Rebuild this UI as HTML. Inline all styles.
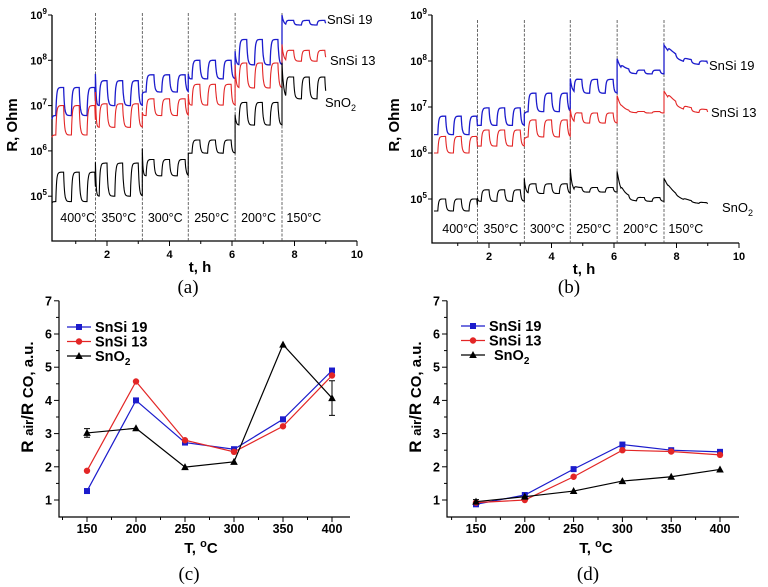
<!DOCTYPE html>
<html><head><meta charset="utf-8"><style>
body{margin:0;background:#fff}
svg{display:block;font-family:"Liberation Sans",sans-serif}
.tk{font-weight:bold;font-size:11px}
.tk2{font-weight:bold;font-size:12.5px}
.ttl{font-weight:bold;font-size:15px}
.cap{font-family:"Liberation Serif",serif;font-size:19px}
.tmp{font-size:12.5px}
.lbl{font-size:13px}
.leg{font-weight:bold;font-size:14.5px}
</style></head><body>
<svg id="fig" width="768" height="587" viewBox="0 0 768 587"></svg>
<script>
// ---------- data: time series (log10 R) per temperature segment ----------
const segStart=[0.24,1.63,3.13,4.6,6.1,7.6];
const segEnd=[1.63,3.13,4.6,6.1,7.6,9.0];
const tempLabels=["400°C","350°C","300°C","250°C","200°C","150°C"];
const aBlueLow=[6.78,7.0,7.3,7.59,7.9,8.78];
const aBlueHigh=[7.4,7.55,7.68,8.0,8.46,8.88];
const aBlueSpike=[6.7,7.7,7.25,7.7,8.2,9.0];
const aRedLow=[6.35,6.52,6.78,7.01,7.39,7.98];
const aRedHigh=[7.0,7.04,7.15,7.47,7.94,8.22];
const aRedSpike=[6.3,7.3,6.85,7.25,7.9,8.35];
const aBlackLow=[4.88,5.0,5.45,5.95,6.57,7.15];
const aBlackHigh=[5.53,5.73,5.81,6.24,7.07,7.63];
const aBlackSpike=[4.85,5.75,6.05,5.95,6.8,7.95];
const aTau=[0.02,0.02,0.02,0.02,0.03,0.05];
const bBlueLow=[6.4,6.6,6.9,7.3,7.72,7.9];
const bBlueHigh=[6.8,6.98,7.3,7.6,7.8,7.98];
const bBlueSpike=[6.4,6.6,6.85,7.62,8.05,8.35];
const bRedLow=[6.0,6.15,6.35,6.65,6.87,6.85];
const bRedHigh=[6.36,6.5,6.72,6.87,6.9,6.93];
const bRedSpike=[6.0,6.15,6.3,6.95,7.25,7.35];
const bBlackLow=[4.74,4.95,5.12,5.15,4.95,4.87];
const bBlackHigh=[5.0,5.2,5.33,5.25,5.03,4.9];
const bBlackSpike=[4.74,5.02,5.45,5.65,5.6,5.45];
const bTau=[0.02,0.02,0.04,0.06,0.15,0.4];
const timeTicks=[2,4,6,8,10];
const decades=[5,6,7,8,9];
// ---------- data: response vs temperature ----------
const temps=[150,200,250,300,350,400];
const cBlue=[1.27,4.0,2.73,2.53,3.43,4.9];
const cRed=[1.88,4.57,2.8,2.45,3.22,4.75];
const cBlack=[3.02,3.16,1.99,2.15,5.68,4.07];
const cBlackErr=[0.13,0,0,0,0,0.52];
const dBlue=[0.87,1.15,1.93,2.67,2.5,2.45];
const dRed=[0.92,1.0,1.7,2.5,2.46,2.36];
const dBlack=[0.95,1.1,1.27,1.57,1.7,1.92];
const dBlackErr=[0.06,0,0,0,0,0];
const respTicks=[1,2,3,4,5,6,7];

const NS="http://www.w3.org/2000/svg";
const svg=document.getElementById('fig');
function mk(tag,attrs,parent,text){const e=document.createElementNS(NS,tag);for(const k in attrs)e.setAttribute(k,attrs[k]);if(text!==undefined)e.textContent=text;(parent||svg).appendChild(e);return e;}
const BLUE="#1c1ccc",RED="#e32626";

function timePanel(P){
  const g=mk('g',{});
  
  
  const X=t=>P.x0+(t-0)*P.pxh, Y=l=>P.yTop+(9-l)*P.pxd;
  const ax=mk('path',{d:`M${P.left},${P.yTop} V${P.bottom} H${X(10)}`,stroke:'#000','stroke-width':1.3,fill:'none'},g);
  
  for(let t=1;t<=10;t++){const tk=mk('line',{x1:X(t),x2:X(t),y1:P.bottom,y2:P.bottom+(t%2?3:5),stroke:'#000','stroke-width':1},g);
    }
  timeTicks.forEach(t=>{const e=mk('text',{x:X(t),y:P.bottom+17,'text-anchor':'middle',class:'tk'},g,String(t));
    });
  decades.forEach(d=>{mk('line',{x1:P.left-4,x2:P.left,y1:Y(d),y2:Y(d),stroke:'#000'},g);
    const e=mk('text',{x:P.left-5,y:Y(d)+4,'text-anchor':'end',class:'tk'},g);
    
    mk('tspan',{},e,'10');mk('tspan',{dy:-5,'font-size':8},e,String(d));});
  segStart.slice(1).forEach(t=>{const l=mk('line',{x1:X(t),x2:X(t),y1:P.sepTop,y2:P.bottom,stroke:'#444','stroke-width':0.8,'stroke-dasharray':'3,1.5'},g);
    });
  tempLabels.forEach((s,i)=>{const e=mk('text',{x:(X(segStart[i])+X(segEnd[i]))/2+(i===0?4:0),y:P.tempY,'text-anchor':'middle',class:'tmp'},g,s);
    });
  P.series.forEach(s=>{
    let pts=[];
    for(let i=0;i<6;i++){
      const t0=segStart[i],t1=segEnd[i];
      for(let t=t0;t<=t1+1e-9;t+=0.01){
        const u=t-t0;
        let base=s.low[i]+(s.spike[i]-s.low[i])*Math.exp(-u/P.tau[i]);
        let f=0;
        for(let k=0;k<3;k++){const r=0.12+0.5*k,fa=r+0.25;
          if(u>=r&&u<fa)f=Math.max(f,1-Math.exp(-(u-r)/0.025));
          else if(u>=fa)f=Math.max(f,(1-Math.exp(-(fa-r)/0.025))*Math.exp(-(u-fa)/0.03));}
        pts.push([X(t),Y(base+(s.high[i]-s.low[i])*f)]);
      }
    }
    const p=mk('path',{d:'M'+pts.map(q=>q[0].toFixed(1)+','+q[1].toFixed(1)).join(' L'),stroke:s.color,'stroke-width':s.w||1.1,fill:'none'},g);
    
    const e=mk('text',{x:s.lx,y:s.ly,class:'lbl'},g);
    
    if(s.sub){mk('tspan',{},e,'SnO');mk('tspan',{dy:4,'font-size':9},e,'2');}else e.textContent=s.text;
  });
  const xt=mk('text',{x:P.xtX,y:P.bottom+31,'text-anchor':'middle',class:'ttl'},g,'t, h');
  
  const yt=mk('text',{x:0,y:0,transform:`translate(${P.ytX},${P.ytY}) rotate(-90)`,'text-anchor':'middle',class:'ttl'},g,'R, Ohm');
  
  const c=mk('text',{x:P.capX,y:293,'text-anchor':'middle',class:'cap'},g,P.cap);
  
}

timePanel({name:'panel-a',x0:44.5,pxh:31.25,yTop:15,pxd:45.3,left:52,bottom:241,sepTop:13,tempY:222,tau:aTau,xtX:200,ytX:17,ytY:125,capX:188,cap:'(a)',
 series:[
  {id:'series-snsi19',color:BLUE,low:aBlueLow,high:aBlueHigh,spike:aBlueSpike,text:'SnSi 19',lx:327,ly:24,w:1.3},
  {id:'series-snsi13',color:RED,low:aRedLow,high:aRedHigh,spike:aRedSpike,text:'SnSi 13',lx:330,ly:65},
  {id:'series-sno2',color:'#000',low:aBlackLow,high:aBlackHigh,spike:aBlackSpike,sub:true,lx:325,ly:107}]});
timePanel({name:'panel-b',x0:426.5,pxh:31.25,yTop:15,pxd:46,left:432,bottom:243,sepTop:20,tempY:233,tau:bTau,xtX:584,ytX:399,ytY:125,capX:569,cap:'(b)',
 series:[
  {id:'series-snsi19',color:BLUE,low:bBlueLow,high:bBlueHigh,spike:bBlueSpike,text:'SnSi 19',lx:709,ly:70,w:1.3},
  {id:'series-snsi13',color:RED,low:bRedLow,high:bRedHigh,spike:bRedSpike,text:'SnSi 13',lx:711,ly:117},
  {id:'series-sno2',color:'#000',low:bBlackLow,high:bBlackHigh,spike:bBlackSpike,sub:true,lx:722,ly:212}]});

function respPanel(P){
  const g=mk('g',{});
  
  
  const X=v=>P.x150+(v-150)*P.pxT, Y=v=>P.y1-(v-1)*33.2;
  const ax=mk('path',{d:`M${P.left},${Y(7)} V${P.bottom} H${P.right}`,stroke:'#000','stroke-width':1.2,fill:'none'},g);
  
  for(let v=125;v<=425;v+=25){const x=X(v);if(x<P.left||x>P.right)continue;
    mk('line',{x1:x,x2:x,y1:P.bottom,y2:P.bottom+(v%50?3:5),stroke:'#000'},g);}
  temps.forEach(v=>{const e=mk('text',{x:X(v),y:P.bottom+16,'text-anchor':'middle',class:'tk2'},g,String(v));
    });
  for(let v=1;v<=7;v+=0.5)mk('line',{x1:P.left-(v%1?3:5),x2:P.left,y1:Y(v),y2:Y(v),stroke:'#000'},g);
  respTicks.forEach(v=>{const e=mk('text',{x:P.left-7,y:Y(v)+4.5,'text-anchor':'end',class:'tk2'},g,String(v));
    });
  const yt=mk('text',{x:0,y:0,transform:`translate(${P.left-26},${Y(4.1)}) rotate(-90)`,'text-anchor':'middle',class:'ttl'},g);
  
  mk('tspan',{'font-size':17},yt,'R ');mk('tspan',{'font-size':13},yt,'air');mk('tspan',{'font-size':17},yt,'/R ');mk('tspan',{'font-size':15},yt,'CO, a.u.');
  const xt=mk('text',{x:P.xtX,y:P.bottom+36,'text-anchor':'middle',class:'ttl'},g);
  
  mk('tspan',{},xt,'T, ');mk('tspan',{dy:-6,'font-size':11},xt,'o');mk('tspan',{dy:6},xt,'C');
  const c=mk('text',{x:P.capX,y:580,'text-anchor':'middle',class:'cap'},g,P.cap);
  
  function marker(type,x,y,col,parent){
    if(type==='s')return mk('rect',{x:x-3,y:y-3,width:6,height:6,fill:col},parent);
    if(type==='c')return mk('circle',{cx:x,cy:y,r:3.2,fill:col},parent);
    return mk('path',{d:`M${x},${y-4} L${x+3.8},${y+3} L${x-3.8},${y+3}Z`,fill:col},parent);
  }
  P.series.forEach((s,si)=>{
    const sg=mk('g',{},g);
    
    if(s.err)s.vals.forEach((v,i)=>{const e=s.err[i];if(!e)return;const x=X(temps[i]);
      mk('path',{d:`M${x},${Y(v+e)} V${Y(v-e)} M${x-3},${Y(v+e)} H${x+3} M${x-3},${Y(v-e)} H${x+3}`,stroke:'#000','stroke-width':1,fill:'none'},sg);});
    mk('polyline',{points:s.vals.map((v,i)=>X(temps[i])+','+Y(v)).join(' '),stroke:s.color,'stroke-width':1.2,fill:'none'},sg);
    s.vals.forEach((v,i)=>{const m=marker(s.mk,X(temps[i]),Y(v),s.color,sg);
      });
    const ly=P.legY+si*14.5;
    const lg=mk('g',{},g);
    
    mk('line',{x1:P.legX,x2:P.legX+24,y1:ly,y2:ly,stroke:s.color,'stroke-width':1.2},lg);
    marker(s.mk,P.legX+12,ly,s.color,lg);
    const t=mk('text',{x:P.legX+28+(s.sub?P.subShift:0),y:ly+5,class:'leg'},lg);
    if(s.sub){mk('tspan',{},t,'SnO');mk('tspan',{dy:4,'font-size':10},t,'2');}else t.textContent=s.text;
  });
}
respPanel({name:'panel-c',x150:87,pxT:0.98,y1:500,left:59,right:350,bottom:517,xtX:201,capX:189,cap:'(c)',legX:67,legY:327,subShift:0,
 series:[{id:'series-snsi19',vals:cBlue,color:BLUE,mk:'s',text:'SnSi 19'},
         {id:'series-snsi13',vals:cRed,color:RED,mk:'c',text:'SnSi 13'},
         {id:'series-sno2',vals:cBlack,color:'#000',mk:'t',sub:true,err:cBlackErr}]});
respPanel({name:'panel-d',x150:476,pxT:0.976,y1:500,left:447,right:739,bottom:517,xtX:596,capX:588,cap:'(d)',legX:461,legY:326,subShift:5,
 series:[{id:'series-snsi19',vals:dBlue,color:BLUE,mk:'s',text:'SnSi 19'},
         {id:'series-snsi13',vals:dRed,color:RED,mk:'c',text:'SnSi 13'},
         {id:'series-sno2',vals:dBlack,color:'#000',mk:'t',sub:true,err:dBlackErr}]});
</script>
</body></html>
